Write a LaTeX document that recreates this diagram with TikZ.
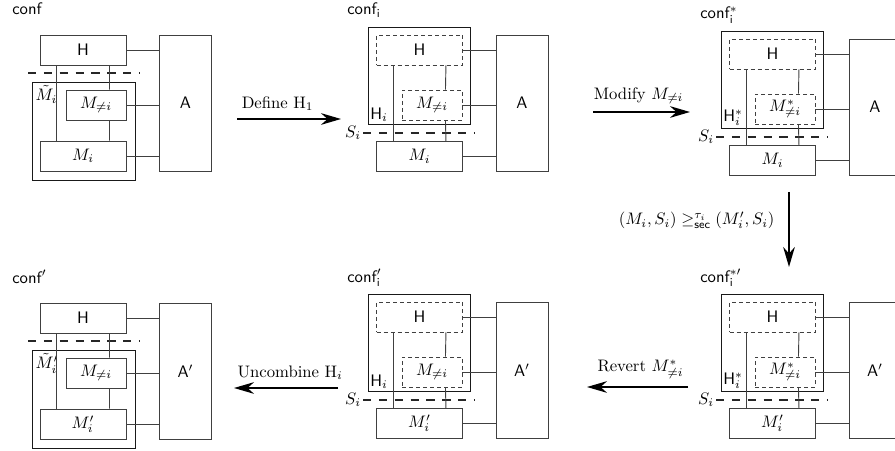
\documentclass[tikz,border=0pt]{standalone}
\usetikzlibrary{arrows.meta}
\begin{document}
\begin{tikzpicture}[
  x=0.6pt, y=-0.6pt,
  block/.style={rectangle, draw=black!75, line width=0.55pt, inner sep=0pt, font=\sffamily},
  wide block/.style={block, minimum width=51.6pt, minimum height=18pt},
  small block/.style={block, minimum width=36pt, minimum height=18pt},
  agent block/.style={block, minimum width=31.2pt, minimum height=81.6pt},
  outer block/.style={rectangle, draw=black!90, line width=0.55pt, inner sep=0pt},
  loose/.style={dash pattern=on 2.4pt off 1.8pt},
  link/.style={draw=black!75, line width=0.55pt},
  cut line/.style={draw=black!85, line width=0.9pt, dash pattern=on 5pt off 4.5pt},
  step arrow/.style={-{Stealth[length=12pt, width=7pt]}, line width=1pt},
  conf label/.style={anchor=base west, inner sep=0pt, font=\sffamily}
]
\useasboundingbox (0,0) rectangle (895,451);

% Top left: conf
\node[conf label] (cf1) at (12,15) {conf};
\node[wide block] (h1) at (83,50) {H};
\node[outer block, minimum width=61.8pt, minimum height=58.8pt] (mt1) at (83.5,131) {};
\node[anchor=north west, inner sep=2.2pt] (mtl1) at (mt1.north west) {$\tilde{M}_i$};
\node[small block] (mn1) at (96,105) {$M_{\neq i}$};
\node[wide block] (mi1) at (83,156) {$M_i$};
\node[agent block] (a1) at (185.5,103) {A};
\coordinate (cl1) at (28,73);
\coordinate (cr1) at (140,73);

\draw[cut line] (cl1) -- (cr1);
\draw[link] ([xshift=10.2pt]h1.south west) -- ([xshift=10.2pt]mi1.north west);
\draw[link] ([xshift=-10.2pt]h1.south east) -- ([xshift=-10.2pt]mn1.north east);
\draw[link] ([xshift=-10.2pt]mn1.south east) -- ([xshift=-10.2pt]mi1.north east);
\draw[link] (h1.east) -- (h1.east -| a1.west);
\draw[link] (mn1.east) -- (mn1.east -| a1.west);
\draw[link] (mi1.east) -- (mi1.east -| a1.west);

% Top middle: conf_i
\node[conf label] (cf2) at (347,15) {conf$_{\mathsf{i}}$};
\node[outer block, minimum width=61.2pt, minimum height=58.2pt] (ob2) at (419,75.5) {};
\node[anchor=south west, inner sep=1.5pt] (hl2) at (ob2.south west) {$\mathsf{H}_i$};
\node[wide block, loose] (h2) at (419.5,50) {H};
\node[small block, loose] (mn2) at (432,105) {$M_{\neq i}$};
\node[wide block] (mi2) at (419.5,156.5) {$M_i$};
\node[agent block] (a2) at (522,103) {A};
\coordinate (cl2) at (363,133);
\coordinate (cr2) at (475,133);
\node[anchor=east, inner sep=1pt] (sl2) at (cl2) {$S_i$};

\draw[cut line] (cl2) -- (cr2);
\draw[link] ([xshift=10.2pt]h2.south west) -- ([xshift=10.2pt]mi2.north west);
\draw[link] ([xshift=-10.2pt]h2.south east) -- ([xshift=-10.2pt]mn2.north east);
\draw[link] ([xshift=-10.2pt]mn2.south east) -- ([xshift=-10.2pt]mi2.north east);
\draw[link] (h2.east) -- (h2.east -| a2.west);
\draw[link] (mn2.east) -- (mn2.east -| a2.west);
\draw[link] (mi2.east) -- (mi2.east -| a2.west);

% Top right: conf_i^*
\begin{scope}[shift={(353,4)}]
  \node[conf label] (cf3) at (347,15) {conf$^{*}_{\mathsf{i}}$};
  \node[outer block, minimum width=61.2pt, minimum height=58.2pt] (ob3) at (419,75.5) {};
  \node[anchor=south west, inner sep=1.5pt] (hl3) at (ob3.south west) {$\mathsf{H}^*_i$};
  \node[wide block, loose] (h3) at (419.5,50) {H};
  \node[small block, loose] (mn3) at (432,105) {$M^*_{\neq i}$};
  \node[wide block] (mi3) at (419.5,156.5) {$M_i$};
  \node[agent block] (a3) at (522,103) {A};
  \coordinate (cl3) at (363,133);
  \coordinate (cr3) at (475,133);
  \node[anchor=east, inner sep=1pt] (sl3) at (cl3) {$S_i$};

  \draw[cut line] (cl3) -- (cr3);
  \draw[link] ([xshift=10.2pt]h3.south west) -- ([xshift=10.2pt]mi3.north west);
  \draw[link] ([xshift=-10.2pt]h3.south east) -- ([xshift=-10.2pt]mn3.north east);
  \draw[link] ([xshift=-10.2pt]mn3.south east) -- ([xshift=-10.2pt]mi3.north east);
  \draw[link] (h3.east) -- (h3.east -| a3.west);
  \draw[link] (mn3.east) -- (mn3.east -| a3.west);
  \draw[link] (mi3.east) -- (mi3.east -| a3.west);
\end{scope}

% Bottom left: conf'
\begin{scope}[shift={(0,268)}]
  \node[conf label] (cf4) at (12,15) {conf$'$};
  \node[wide block] (h4) at (83,50) {H};
  \node[outer block, minimum width=61.8pt, minimum height=58.8pt] (mt4) at (83.5,131) {};
  \node[anchor=north west, inner sep=2.2pt] (mtl4) at (mt4.north west) {$\tilde{M}'_i$};
  \node[small block] (mn4) at (96,105) {$M_{\neq i}$};
  \node[wide block] (mi4) at (83,156) {$M'_i$};
  \node[agent block] (a4) at (185.5,103) {A$'$};
  \coordinate (cl4) at (28,73);
  \coordinate (cr4) at (140,73);

  \draw[cut line] (cl4) -- (cr4);
  \draw[link] ([xshift=10.2pt]h4.south west) -- ([xshift=10.2pt]mi4.north west);
  \draw[link] ([xshift=-10.2pt]h4.south east) -- ([xshift=-10.2pt]mn4.north east);
  \draw[link] ([xshift=-10.2pt]mn4.south east) -- ([xshift=-10.2pt]mi4.north east);
  \draw[link] (h4.east) -- (h4.east -| a4.west);
  \draw[link] (mn4.east) -- (mn4.east -| a4.west);
  \draw[link] (mi4.east) -- (mi4.east -| a4.west);
\end{scope}

% Bottom middle: conf_i'
\begin{scope}[shift={(0,267)}]
  \node[conf label] (cf5) at (347,15) {conf$'_{\mathsf{i}}$};
  \node[outer block, minimum width=61.2pt, minimum height=58.2pt] (ob5) at (419,75.5) {};
  \node[anchor=south west, inner sep=1.5pt] (hl5) at (ob5.south west) {$\mathsf{H}_i$};
  \node[wide block, loose] (h5) at (419.5,50) {H};
  \node[small block, loose] (mn5) at (432,105) {$M_{\neq i}$};
  \node[wide block] (mi5) at (419.5,156.5) {$M'_i$};
  \node[agent block] (a5) at (522,103) {A$'$};
  \coordinate (cl5) at (363,133);
  \coordinate (cr5) at (475,133);
  \node[anchor=east, inner sep=1pt] (sl5) at (cl5) {$S_i$};

  \draw[cut line] (cl5) -- (cr5);
  \draw[link] ([xshift=10.2pt]h5.south west) -- ([xshift=10.2pt]mi5.north west);
  \draw[link] ([xshift=-10.2pt]h5.south east) -- ([xshift=-10.2pt]mn5.north east);
  \draw[link] ([xshift=-10.2pt]mn5.south east) -- ([xshift=-10.2pt]mi5.north east);
  \draw[link] (h5.east) -- (h5.east -| a5.west);
  \draw[link] (mn5.east) -- (mn5.east -| a5.west);
  \draw[link] (mi5.east) -- (mi5.east -| a5.west);
\end{scope}

% Bottom right: conf_i^*'
\begin{scope}[shift={(353,267)}]
  \node[conf label] (cf6) at (347,15) {conf$^{*\prime}_{\mathsf{i}}$};
  \node[outer block, minimum width=61.2pt, minimum height=58.2pt] (ob6) at (419,75.5) {};
  \node[anchor=south west, inner sep=1.5pt] (hl6) at (ob6.south west) {$\mathsf{H}^*_i$};
  \node[wide block, loose] (h6) at (419.5,50) {H};
  \node[small block, loose] (mn6) at (432,105) {$M^*_{\neq i}$};
  \node[wide block] (mi6) at (419.5,156.5) {$M'_i$};
  \node[agent block] (a6) at (522,103) {A$'$};
  \coordinate (cl6) at (363,133);
  \coordinate (cr6) at (475,133);
  \node[anchor=east, inner sep=1pt] (sl6) at (cl6) {$S_i$};

  \draw[cut line] (cl6) -- (cr6);
  \draw[link] ([xshift=10.2pt]h6.south west) -- ([xshift=10.2pt]mi6.north west);
  \draw[link] ([xshift=-10.2pt]h6.south east) -- ([xshift=-10.2pt]mn6.north east);
  \draw[link] ([xshift=-10.2pt]mn6.south east) -- ([xshift=-10.2pt]mi6.north east);
  \draw[link] (h6.east) -- (h6.east -| a6.west);
  \draw[link] (mn6.east) -- (mn6.east -| a6.west);
  \draw[link] (mi6.east) -- (mi6.east -| a6.west);
\end{scope}

% Steps between the configurations
\coordinate (def1) at (237,119);
\coordinate (def2) at (341,119);
\coordinate (mod1) at (593,112);
\coordinate (mod2) at (690,112);
\coordinate (sec1) at (789,192);
\coordinate (sec2) at (789,267);
\coordinate (rev1) at (688,387);
\coordinate (rev2) at (587,387);
\coordinate (unc1) at (338,388);
\coordinate (unc2) at (234,388);

\draw[step arrow] (def1) -- node[above=1pt, pos=0.39] (defl) {Define $\mathrm{H}_1$} (def2);
\draw[step arrow] (mod1) -- node[above=1pt, pos=0.47] (modl) {Modify $M_{\neq i}$} (mod2);
\draw[step arrow] (sec1) -- node[left=5pt, pos=0.38] (secl)
  {$(M_i,S_i) \geq^{\tau_i}_{\mathsf{sec}} (M'_i,S_i)$} (sec2);
\draw[step arrow] (rev1) -- node[above=1pt, pos=0.47] (revl) {Revert $M^*_{\neq i}$} (rev2);
\draw[step arrow] (unc1) -- node[above=1pt, pos=0.46] (uncl) {Uncombine $\mathrm{H}_i$} (unc2);

\end{tikzpicture}
\end{document}
